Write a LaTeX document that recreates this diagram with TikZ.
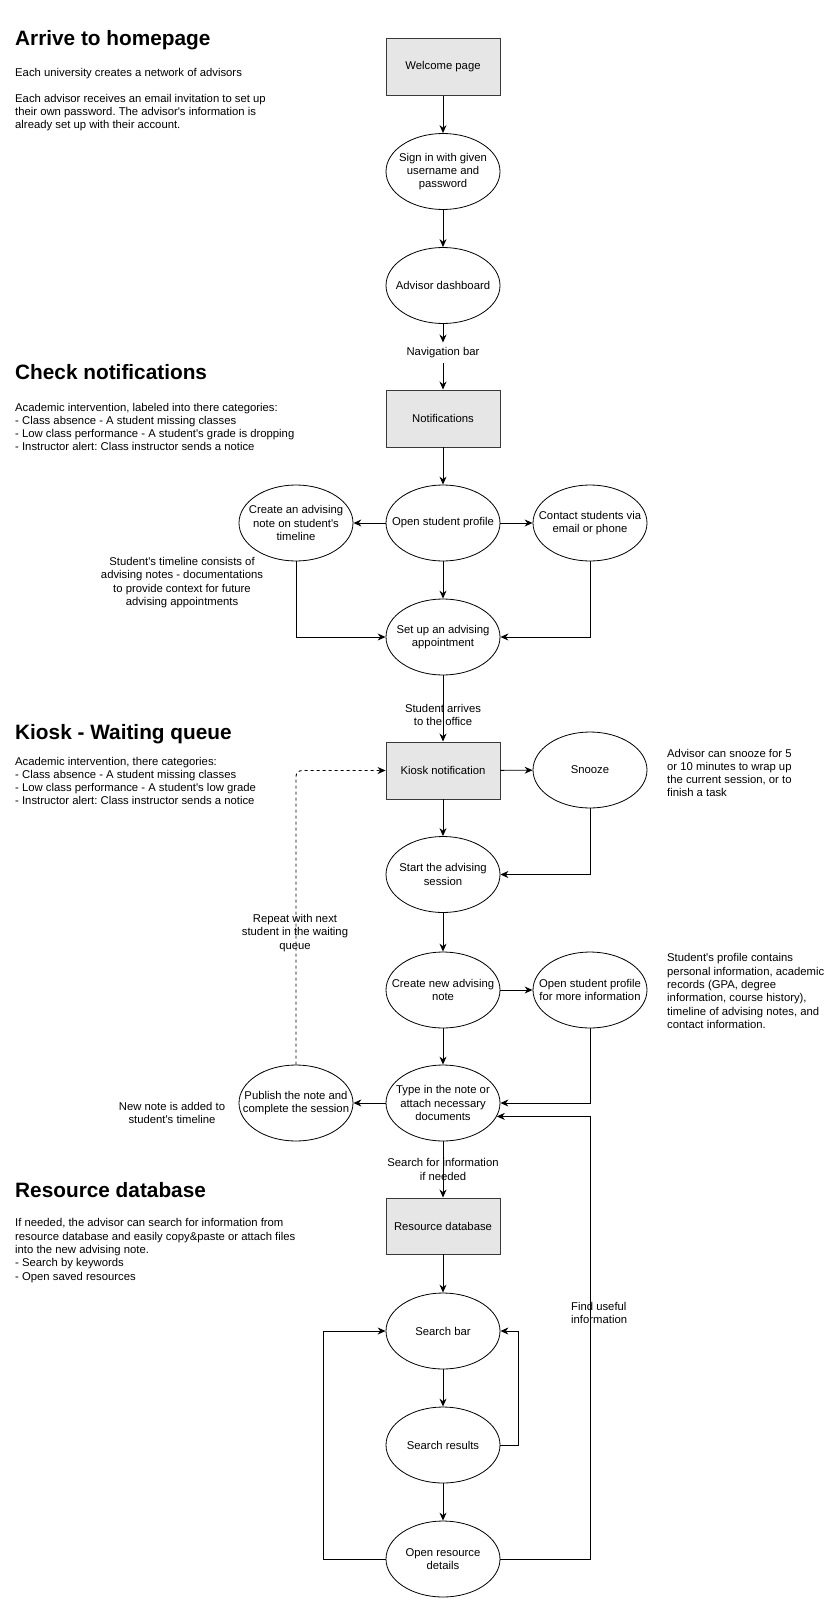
\documentclass[tikz,border=0pt]{standalone}
\usepackage{fontspec}
\setmainfont{Liberation Sans}[Ligatures=TeXOff]
\usetikzlibrary{shapes.geometric,arrows.meta}
\definecolor{boxgray}{RGB}{230,230,230}
\definecolor{edgegray}{RGB}{54,57,61}
\newcommand{\nfont}{\fontsize{11.3}{13.3}\selectfont}
\newcommand{\hfont}{\fontsize{20.8}{24}\selectfont\bfseries}
\frenchspacing
\begin{document}
\begin{tikzpicture}[x=1pt,y=-1pt,
 box/.style={draw=edgegray, fill=boxgray, line width=0.9pt, minimum width=114pt, minimum height=57pt, inner sep=0pt, font=\nfont, align=center},
 ell/.style={draw=black, line width=0.8pt, ellipse, minimum width=114pt, minimum height=76pt, inner sep=0pt},
 etxt/.style={font=\nfont, align=center, inner sep=0pt},
 lbl/.style={font=\nfont, align=center, inner sep=0pt},
 notetxt/.style={font=\nfont, align=left, inner sep=0pt, anchor=west},
 headtxt/.style={font=\hfont, inner sep=0pt, anchor=west},
 arr/.style={draw=black, line width=0.9pt, -{Stealth[length=8pt,width=7pt]}},
]
\useasboundingbox (0,0) rectangle (838,1608);

% left descriptions
\node[headtxt] (h1) at (15,40) {Arrive to homepage};
\node[notetxt] (t1a) at (15,74) {Each university creates a network of advisors};
\node[notetxt] (t1b) at (15,112.5) {Each advisor receives an email invitation to set up\\their own password. The advisor's information is\\already set up with their account.};
\node[headtxt] (h2) at (15,372) {Check notifications};
\node[notetxt] (t2) at (15,427) {Academic intervention, labeled into there categories:\\- Class absence - A student missing classes\\- Low class performance - A student's grade is dropping\\- Instructor alert: Class instructor sends a notice};
\node[headtxt] (h3) at (15,734) {Kiosk - Waiting queue};
\node[notetxt] (t3) at (15,781) {Academic intervention, there categories:\\- Class absence - A student missing classes\\- Low class performance - A student's low grade\\- Instructor alert: Class instructor sends a notice};
\node[headtxt] (h4) at (15,1190) {Resource database};
\node[notetxt] (t4) at (15,1250.5) {If needed, the advisor can search for information from\\resource database and easily copy\&paste or attach files\\into the new advising note.\\- Search by keywords\\- Open saved resources};

% main flow
\node[box] (welcome) at (443,67) {Welcome page};
\node[ell, label={[etxt]center:{Sign in with given\\username and\\password}}] (signin) at (443,171.5) {};
\node[ell, label={[etxt]center:{Advisor dashboard}}] (dash) at (443,285.5) {};
\node[lbl, inner ysep=5pt] (navbar) at (443,353) {Navigation bar};
\node[box] (notif) at (443,418.5) {Notifications};
\node[ell, label={[etxt]center:{Open student profile}}] (openprof) at (443,523) {};
\node[ell, label={[etxt]center:{Create an advising\\note on student's\\timeline}}] (createnote) at (296,523) {};
\node[ell, label={[etxt]center:{Contact students via\\email or phone}}] (contact) at (590,523) {};
\node[ell, label={[etxt]center:{Set up an advising\\appointment}}] (setup) at (443,637) {};
\node[lbl] (timeline) at (182,582.5) {Student's timeline consists of\\advising notes - documentations\\to provide context for future\\advising appointments};

\node[box] (kiosk) at (443,770.5) {Kiosk notification};
\node[ell, label={[etxt]center:{Snooze}}] (snooze) at (590,770) {};
\node[notetxt] (snoozetxt) at (667,773) {Advisor can snooze for 5\\or 10 minutes to wrap up\\the current session, or to\\finish a task};
\node[ell, label={[etxt]center:{Start the advising\\session}}] (start) at (443,874.5) {};
\node[ell, label={[etxt]center:{Create new advising\\note}}] (createnew) at (443,990) {};
\node[ell, label={[etxt]center:{Open student profile\\for more information}}] (openprof2) at (590,990) {};
\node[notetxt] (proftxt) at (667,991) {Student's profile contains\\personal information, academic\\records (GPA, degree\\information, course history),\\timeline of advising notes, and\\contact information.};
\node[ell, label={[etxt]center:{Type in the note or\\attach necessary\\documents}}] (type) at (443,1103) {};
\node[ell, label={[etxt]center:{Publish the note and\\complete the session}}] (publish) at (296,1103) {};
\node[lbl] (newnote) at (172,1113) {New note is added to\\student's timeline};
\node[lbl] (repeat) at (295,933) {Repeat with next\\student in the waiting\\queue};

\node[box, minimum height=56pt] (resdb) at (443,1226) {Resource database};
\node[ell, label={[etxt]center:{Search bar}}] (searchbar) at (443,1331) {};
\node[ell, label={[etxt]center:{Search results}}] (searchres) at (443,1445) {};
\node[ell, label={[etxt]center:{Open resource\\details}}] (openres) at (443,1559) {};
\node[notetxt] (findtxt) at (571,1313) {Find useful\\information};

% connectors
\draw[arr] (welcome) -- (signin);
\draw[arr] (signin) -- (dash);
\draw[arr] (dash) -- (navbar);
\draw[arr] (navbar) -- (notif);
\draw[arr] (notif) -- (openprof);
\draw[arr] (openprof) -- (createnote);
\draw[arr] (openprof) -- (contact);
\draw[arr] (openprof) -- (setup);
\draw[arr] (createnote) |- (setup);
\draw[arr] (contact) |- (setup);
\draw[arr] (setup) -- node[lbl, pos=0.6] {Student arrives\\to the office} (kiosk);
\draw[arr] (kiosk) -- (snooze);
\draw[arr] (kiosk) -- (start);
\draw[arr] (snooze) |- (start);
\draw[arr] (start) -- (createnew);
\draw[arr] (createnew) -- (openprof2);
\draw[arr] (createnew) -- (type);
\draw[arr] (openprof2) |- (type);
\draw[arr] (type) -- (publish);
\draw[arr, dash pattern=on 3pt off 3pt, rounded corners=6pt] (publish) |- (kiosk);
\draw[arr] (type) -- node[lbl] {Search for information\\if needed} (resdb);
\draw[arr] (resdb) -- (searchbar);
\draw[arr] (searchbar) -- (searchres);
\draw[arr] (searchres) -- (openres);
\draw[arr] (searchres.east) -- ++(18,0) |- (searchbar.east);
\draw[arr] (openres.west) -- ++(-62,0) |- (searchbar.west);
\draw[arr] (openres.east) -| (openprof2 |- type.-14.85) -- (type.-14.85);
\end{tikzpicture}
\end{document}
